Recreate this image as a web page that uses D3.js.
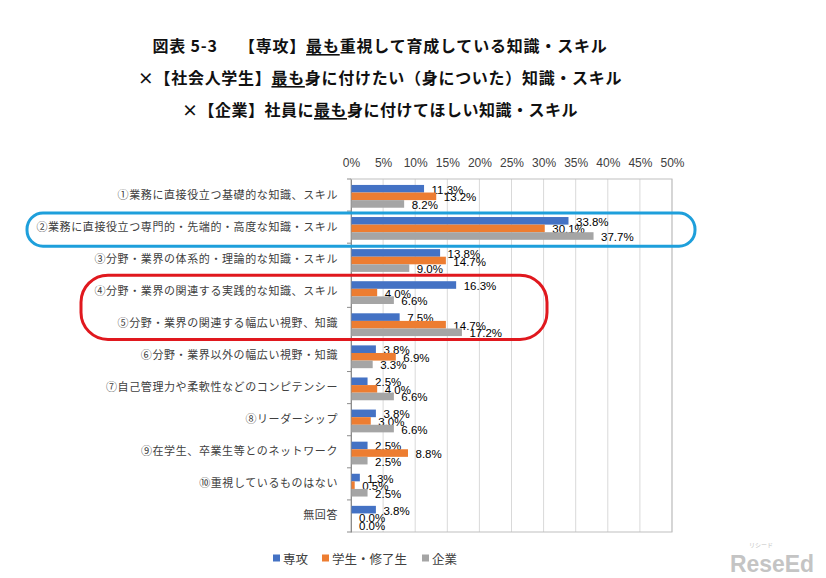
<!DOCTYPE html>
<html><head><meta charset="utf-8">
<script src="https://cdn.jsdelivr.net/npm/d3@7"></script>
<style>
html,body{margin:0;padding:0;background:#fff;}
svg{display:block;}
</style></head>
<body>
<svg id="chart" width="826" height="578"></svg>
<script>
const categories = [
  "①業務に直接役立つ基礎的な知識、スキル",
  "②業務に直接役立つ専門的・先端的・高度な知識・スキル",
  "③分野・業界の体系的・理論的な知識・スキル",
  "④分野・業界の関連する実践的な知識、スキル",
  "⑤分野・業界の関連する幅広い視野、知識",
  "⑥分野・業界以外の幅広い視野・知識",
  "⑦自己管理力や柔軟性などのコンピテンシー",
  "⑧リーダーシップ",
  "⑨在学生、卒業生等とのネットワーク",
  "⑩重視しているものはない",
  "無回答"
];
const seriesNames = ["専攻", "学生・修了生", "企業"];
const senkou  = [11.3, 33.8, 13.8, 16.3, 7.5, 3.8, 2.5, 3.8, 2.5, 1.3, 3.8];
const gakusei = [13.2, 30.1, 14.7, 4.0, 14.7, 6.9, 4.0, 3.0, 8.8, 0.5, 0.0];
const kigyou  = [8.2, 37.7, 9.0, 6.6, 17.2, 3.3, 6.6, 6.6, 2.5, 2.5, 0.0];
const tickValues = [0, 5, 10, 15, 20, 25, 30, 35, 40, 45, 50];
const colors = ["#4472C4", "#ED7D31", "#A5A5A5"];

const seriesValues = [senkou, gakusei, kigyou];
const svg = d3.select("#chart");

// Title
const titleFont = "'Noto Sans CJK JP','Noto Sans CJK SC',sans-serif";
const titleLines = [
  [["図表 5-3　 【専攻】", false], ["最も", true], ["重視して育成している知識・スキル", false]],
  [["×【社会人学生】", false], ["最も", true], ["身に付けたい（身についた）知識・スキル", false]],
  [["×【企業】社員に", false], ["最も", true], ["身に付けてほしい知識・スキル", false]]
];
const titleY = [45, 77, 109];
const titleSpacing = [0.8, 0.7, 0.5];
titleLines.forEach((parts, i) => {
  const t = svg.append("text")
    .attr("x", 380).attr("y", titleY[i])
    .attr("text-anchor", "middle")
    .attr("dominant-baseline", "central")
    .style("font-family", titleFont)
    .style("font-size", "16px")
    .style("font-weight", "700")
    .style("letter-spacing", titleSpacing[i] + "px")
    .attr("fill", "#111");
  parts.forEach(([s, u]) => {
    const ts = t.append("tspan").text(s);
    if (u) ts.style("text-decoration", "underline");
  });
});

// Scales
const x = d3.scaleLinear().domain([0, 50]).range([351, 672]);
const y = d3.scaleBand().domain(categories).range([179, 532]);
const ySub = d3.scaleBand().domain(seriesNames)
  .range([y.bandwidth() * 0.185, y.bandwidth() * 0.895]);

// Gridlines
svg.append("g").selectAll("line").data(tickValues).join("line")
  .attr("x1", d => x(d)).attr("x2", d => x(d))
  .attr("y1", 179).attr("y2", 532)
  .attr("stroke", "#D9D9D9").attr("stroke-width", 1);

// Plot border
svg.append("rect").attr("x", x(0)).attr("y", 179)
  .attr("width", x(50) - x(0)).attr("height", 532 - 179)
  .attr("fill", "none").attr("stroke", "#BFBFBF").attr("stroke-width", 1);

// Top axis
const xAxis = d3.axisTop(x).tickValues(tickValues).tickFormat(d => d + "%").tickSize(0).tickPadding(0);
const gx = svg.append("g").attr("transform", "translate(0,168)").call(xAxis);
gx.select(".domain").remove();
gx.selectAll("text")
  .attr("dy", "0.35em").attr("y", -5)
  .style("font-family", "'Liberation Sans',Arial,sans-serif")
  .style("font-size", "12px").attr("fill", "#404040");

// Left axis
const yAxis = d3.axisLeft(y).tickSize(0).tickPadding(13);
const gy = svg.append("g").attr("transform", `translate(${x(0)},0)`).call(yAxis);
gy.select(".domain").attr("stroke", "#8C8C8C");
gy.selectAll("text")
  .style("font-family", "'Noto Sans CJK JP',sans-serif")
  .style("font-size", "11px")
  .style("letter-spacing", "0.6px")
  .attr("fill", "#404040");
// boundary tick marks
svg.append("g").selectAll("line").data(categories.concat(["__end"])).join("line")
  .attr("x1", x(0) - 4).attr("x2", x(0))
  .attr("y1", (d, i) => i < categories.length ? y(d) : y.range()[1])
  .attr("y2", (d, i) => i < categories.length ? y(d) : y.range()[1])
  .attr("stroke", "#8C8C8C");

// Bars and labels
seriesNames.forEach((s, si) => {
  const vals = seriesValues[si];
  const g = svg.append("g");
  g.selectAll("rect").data(categories).join("rect")
    .attr("x", x(0) + 0.5)
    .attr("y", (c) => y(c) + ySub(s))
    .attr("width", (c, i) => Math.max(0, x(vals[i]) - x(0)))
    .attr("height", ySub.bandwidth())
    .attr("fill", colors[si]);
  g.selectAll("text").data(categories).join("text")
    .attr("x", (c, i) => x(vals[i]) + 8)
    .attr("y", (c) => y(c) + ySub(s) + ySub.bandwidth() / 2 + 1)
    .attr("dominant-baseline", "central")
    .style("font-family", "'Liberation Sans',Arial,sans-serif")
    .style("font-size", "11.5px")
    .attr("fill", "#000")
    .text((c, i) => vals[i].toFixed(1) + "%");
});

// Highlight outlines
const c2 = categories[1];
svg.append("rect")
  .attr("x", 27).attr("y", y(c2) + 2)
  .attr("width", 695 - 27).attr("height", y.bandwidth() + 1)
  .attr("rx", 16).attr("ry", 16)
  .attr("fill", "none").attr("stroke", "#1E9FDB").attr("stroke-width", 3);
const c4 = categories[3], c5 = categories[4];
svg.append("rect")
  .attr("x", 81).attr("y", y(c4))
  .attr("width", 547 - 81).attr("height", y(c5) + y.bandwidth() - y(c4))
  .attr("rx", 27).attr("ry", 27)
  .attr("fill", "none").attr("stroke", "#E0181E").attr("stroke-width", 3);

// Legend
const legendX = [273, 322, 422];
const lg = svg.append("g");
seriesNames.forEach((s, i) => {
  lg.append("rect").attr("x", legendX[i]).attr("y", 554.5).attr("width", 7).attr("height", 7).attr("fill", colors[i]);
  lg.append("text").attr("x", legendX[i] + 10).attr("y", 558)
    .attr("dominant-baseline", "central")
    .style("font-family", "'Noto Sans CJK JP',sans-serif")
    .style("font-size", "12.5px")
    .attr("fill", "#404040").text(s);
});

// Watermark
svg.append("text").attr("x", 730).attr("y", 572)
  .attr("textLength", 84).attr("lengthAdjust", "spacingAndGlyphs")
  .style("font-family", "'Liberation Sans',Arial,sans-serif")
  .style("font-size", "24px").style("font-weight", "700")
  .attr("fill", "#C4C4C4").text("ReseEd");
svg.append("text").attr("x", 749).attr("y", 547)
  .style("font-family", "'Noto Sans CJK JP',sans-serif")
  .style("font-size", "6px")
  .attr("fill", "#C4C4C4").text("リシード");
</script>
</body></html>
